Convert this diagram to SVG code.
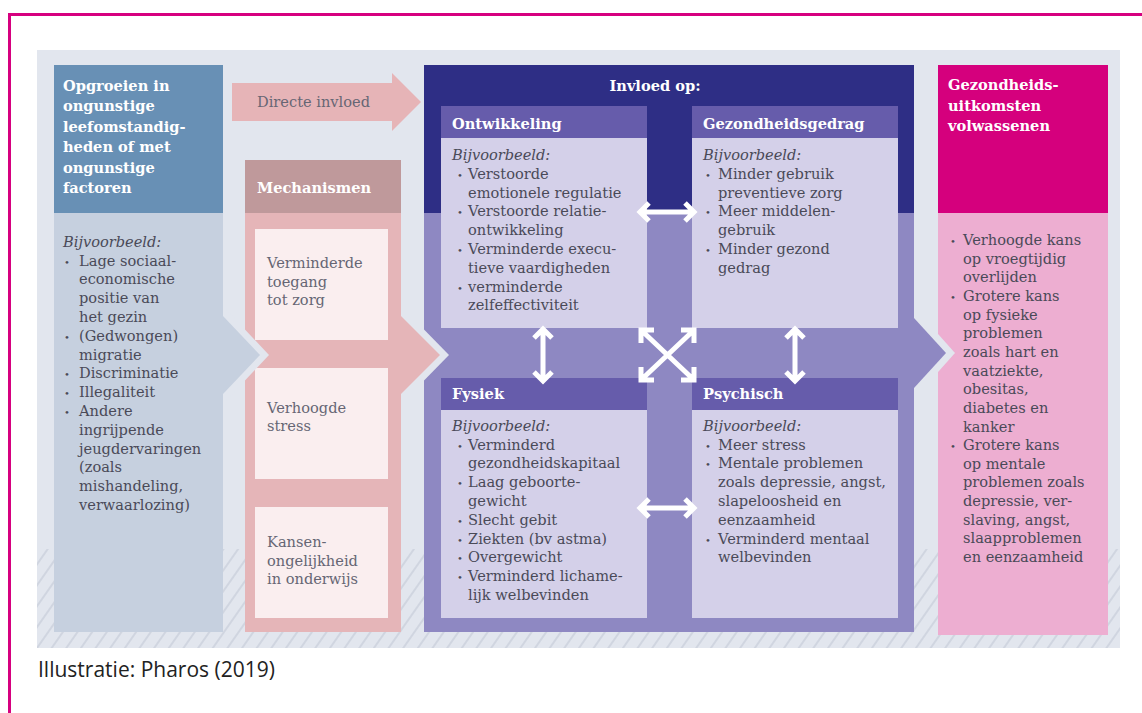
<svg xmlns="http://www.w3.org/2000/svg" width="1142" height="713" viewBox="0 0 1142 713">
<defs>
<style>
.t{font-family:"DejaVu Serif","Liberation Serif",serif;font-size:14.6px;fill:#4a4a58}
.h{font-family:"DejaVu Serif","Liberation Serif",serif;font-size:14.6px;font-weight:bold;fill:#ffffff}
.g{fill:#666674}
.i{font-style:italic}
.bu{font-size:10px}
.cap{font-family:"Open Sans","Noto Sans","Liberation Sans",sans-serif;font-size:21px;fill:#222222}
.arr{fill:none;stroke:#ffffff;stroke-width:5;stroke-linejoin:miter;stroke-linecap:butt}
</style>
<pattern id="hatch" patternUnits="userSpaceOnUse" width="12" height="12" patternTransform="rotate(35)">
<line x1="6" y1="-2" x2="6" y2="14" stroke="#c6ccd8" stroke-width="1.3"/>
</pattern>
</defs>
<rect x="0" y="0" width="1142" height="713" fill="#ffffff"/>
<path d="M9.5 713 V14.5 H1142" fill="none" stroke="#d6007f" stroke-width="3"/>
<g id="background">
<rect x="37" y="50" width="1083" height="598" fill="#e2e6ee"/>
<rect x="37" y="549" width="1083" height="99" fill="url(#hatch)"/>
</g>
<g id="purple-block">
<rect x="424" y="65" width="490" height="567" fill="#8e88c2"/>
<rect x="424" y="65" width="490" height="148" fill="#2e2e85"/>
<text class="h" x="655" y="91" text-anchor="middle">Invloed op:</text>
</g>
<g id="outcomes">
<rect x="938" y="65" width="170" height="148" fill="#d5007d"/>
<rect x="938" y="213" width="170" height="422" fill="#edaed1"/>
<text class="h"><tspan x="948" y="90">Gezondheids-</tspan><tspan x="948" y="110.6">uitkomsten</tspan><tspan x="948" y="131.2">volwassenen</tspan></text>
<text class="t">
<tspan class="bu" x="950" y="245">•</tspan><tspan x="963" y="245">Verhoogde kans</tspan>
<tspan x="963" y="263.65">op vroegtijdig</tspan>
<tspan x="963" y="282.3">overlijden</tspan>
<tspan class="bu" x="950" y="300.95">•</tspan><tspan x="963" y="300.95">Grotere kans</tspan>
<tspan x="963" y="319.6">op fysieke</tspan>
<tspan x="963" y="338.25">problemen</tspan>
<tspan x="963" y="356.9">zoals hart en</tspan>
<tspan x="963" y="375.55">vaatziekte,</tspan>
<tspan x="963" y="394.2">obesitas,</tspan>
<tspan x="963" y="412.85">diabetes en</tspan>
<tspan x="963" y="431.5">kanker</tspan>
<tspan class="bu" x="950" y="450.15">•</tspan><tspan x="963" y="450.15">Grotere kans</tspan>
<tspan x="963" y="468.8">op mentale</tspan>
<tspan x="963" y="487.45">problemen zoals</tspan>
<tspan x="963" y="506.1">depressie, ver-</tspan>
<tspan x="963" y="524.75">slaving, angst,</tspan>
<tspan x="963" y="543.4">slaapproblemen</tspan>
<tspan x="963" y="562.05">en eenzaamheid</tspan>
</text>
</g>
<g id="chevron-purple">
<polygon points="914,307 955,353 914,399" fill="#e2e6ee"/>
<polygon points="914,318 946,353 914,388" fill="#8e88c2"/>
</g>
<g id="mechanismen">
<rect x="245" y="160" width="156" height="53" fill="#bf999b"/>
<rect x="245" y="213" width="156" height="419" fill="#e5b5b8"/>
<text class="h" x="257" y="193">Mechanismen</text>
<rect x="255" y="229" width="133" height="111" fill="#faeeef"/>
<rect x="255" y="368" width="133" height="111" fill="#faeeef"/>
<rect x="255" y="507" width="133" height="111" fill="#faeeef"/>
<text class="t g"><tspan x="267" y="268.3">Verminderde</tspan><tspan x="267" y="286.8">toegang</tspan><tspan x="267" y="305.3">tot zorg</tspan></text>
<text class="t g"><tspan x="267" y="412.7">Verhoogde</tspan><tspan x="267" y="431.2">stress</tspan></text>
<text class="t g"><tspan x="267" y="547.3">Kansen-</tspan><tspan x="267" y="565.8">ongelijkheid</tspan><tspan x="267" y="584.3">in onderwijs</tspan></text>
</g>
<g id="chevron-pink">
<polygon points="401,306 449,355 401,404" fill="#e2e6ee"/>
<polygon points="401,316 440,355 401,394" fill="#e5b5b8"/>
</g>
<g id="opgroeien">
<rect x="54" y="65" width="169" height="148" fill="#6890b5"/>
<rect x="54" y="213" width="169" height="419" fill="#c6d0df"/>
<text class="h"><tspan x="63" y="90.5">Opgroeien in</tspan><tspan x="63" y="111">ongunstige</tspan><tspan x="63" y="131.5">leefomstandig-</tspan><tspan x="63" y="152">heden of met</tspan><tspan x="63" y="172.5">ongunstige</tspan><tspan x="63" y="193">factoren</tspan></text>
<text class="t">
<tspan class="i" x="63" y="246.7">Bijvoorbeeld:</tspan>
<tspan class="bu" x="64" y="265.5">•</tspan><tspan x="79" y="265.5">Lage sociaal-</tspan>
<tspan x="79" y="284.3">economische</tspan>
<tspan x="79" y="303.1">positie van</tspan>
<tspan x="79" y="321.9">het gezin</tspan>
<tspan class="bu" x="64" y="340.7">•</tspan><tspan x="79" y="340.7">(Gedwongen)</tspan>
<tspan x="79" y="359.5">migratie</tspan>
<tspan class="bu" x="64" y="378.3">•</tspan><tspan x="79" y="378.3">Discriminatie</tspan>
<tspan class="bu" x="64" y="397.1">•</tspan><tspan x="79" y="397.1">Illegaliteit</tspan>
<tspan class="bu" x="64" y="415.9">•</tspan><tspan x="79" y="415.9">Andere</tspan>
<tspan x="79" y="434.7">ingrijpende</tspan>
<tspan x="79" y="453.5">jeugdervaringen</tspan>
<tspan x="79" y="472.3">(zoals</tspan>
<tspan x="79" y="491.1">mishandeling,</tspan>
<tspan x="79" y="509.9">verwaarlozing)</tspan>
</text>
</g>
<g id="chevron-left">
<polygon points="223,306 269,355 223,404" fill="#e2e6ee"/>
<polygon points="223,316 260,355 223,394" fill="#c6d0df"/>
</g>
<g id="directe-invloed">
<polygon points="232,83 392,83 392,73 421,102 392,131 392,121 232,121" fill="#e6b4b7"/>
<text class="t g" x="257" y="106.7">Directe invloed</text>
</g>
<g id="ontwikkeling">
<rect x="441" y="106" width="206" height="32" fill="#665cab"/>
<rect x="441" y="138" width="206" height="190" fill="#d4d0e9"/>
<text class="h" x="452" y="129.3">Ontwikkeling</text>
<text class="t">
<tspan class="i" x="452" y="160">Bijvoorbeeld:</tspan>
<tspan class="bu" x="457" y="178.8">•</tspan><tspan x="468" y="178.8">Verstoorde</tspan>
<tspan x="468" y="197.6">emotionele regulatie</tspan>
<tspan class="bu" x="457" y="216.4">•</tspan><tspan x="468" y="216.4">Verstoorde relatie-</tspan>
<tspan x="468" y="235.2">ontwikkeling</tspan>
<tspan class="bu" x="457" y="254">•</tspan><tspan x="468" y="254">Verminderde execu-</tspan>
<tspan x="468" y="272.8">tieve vaardigheden</tspan>
<tspan class="bu" x="457" y="291.6">•</tspan><tspan x="468" y="291.6">verminderde</tspan>
<tspan x="468" y="310.4">zelfeffectiviteit</tspan>
</text>
</g>
<g id="gezondheidsgedrag">
<rect x="692" y="106" width="206" height="32" fill="#665cab"/>
<rect x="692" y="138" width="206" height="190" fill="#d4d0e9"/>
<text class="h" x="703" y="129.3">Gezondheidsgedrag</text>
<text class="t">
<tspan class="i" x="703" y="160">Bijvoorbeeld:</tspan>
<tspan class="bu" x="705" y="178.8">•</tspan><tspan x="718" y="178.8">Minder gebruik</tspan>
<tspan x="718" y="197.6">preventieve zorg</tspan>
<tspan class="bu" x="705" y="216.4">•</tspan><tspan x="718" y="216.4">Meer middelen-</tspan>
<tspan x="718" y="235.2">gebruik</tspan>
<tspan class="bu" x="705" y="254">•</tspan><tspan x="718" y="254">Minder gezond</tspan>
<tspan x="718" y="272.8">gedrag</tspan>
</text>
</g>
<g id="fysiek">
<rect x="441" y="378" width="206" height="32" fill="#665cab"/>
<rect x="441" y="410" width="206" height="208" fill="#d4d0e9"/>
<text class="h" x="452" y="399.3">Fysiek</text>
<text class="t">
<tspan class="i" x="452" y="430.7">Bijvoorbeeld:</tspan>
<tspan class="bu" x="457" y="449.5">•</tspan><tspan x="468" y="449.5">Verminderd</tspan>
<tspan x="468" y="468.3">gezondheidskapitaal</tspan>
<tspan class="bu" x="457" y="487.1">•</tspan><tspan x="468" y="487.1">Laag geboorte-</tspan>
<tspan x="468" y="505.9">gewicht</tspan>
<tspan class="bu" x="457" y="524.7">•</tspan><tspan x="468" y="524.7">Slecht gebit</tspan>
<tspan class="bu" x="457" y="543.5">•</tspan><tspan x="468" y="543.5">Ziekten (bv astma)</tspan>
<tspan class="bu" x="457" y="562.3">•</tspan><tspan x="468" y="562.3">Overgewicht</tspan>
<tspan class="bu" x="457" y="581.1">•</tspan><tspan x="468" y="581.1">Verminderd lichame-</tspan>
<tspan x="468" y="599.9">lijk welbevinden</tspan>
</text>
</g>
<g id="psychisch">
<rect x="692" y="378" width="206" height="32" fill="#665cab"/>
<rect x="692" y="410" width="206" height="208" fill="#d4d0e9"/>
<text class="h" x="703" y="399.3">Psychisch</text>
<text class="t">
<tspan class="i" x="703" y="430.7">Bijvoorbeeld:</tspan>
<tspan class="bu" x="705" y="449.5">•</tspan><tspan x="718" y="449.5">Meer stress</tspan>
<tspan class="bu" x="705" y="468.3">•</tspan><tspan x="718" y="468.3">Mentale problemen</tspan>
<tspan x="718" y="487.1">zoals depressie, angst,</tspan>
<tspan x="718" y="505.9">slapeloosheid en</tspan>
<tspan x="718" y="524.7">eenzaamheid</tspan>
<tspan class="bu" x="705" y="543.5">•</tspan><tspan x="718" y="543.5">Verminderd mentaal</tspan>
<tspan x="718" y="562.3">welbevinden</tspan>
</text>
</g>
<g id="connectors">
<path class="arr" d="M640 212 H694 M649 203 L640 212 L649 221 M685 203 L694 212 L685 221"/>
<path class="arr" d="M640 508 H694 M649 499 L640 508 L649 517 M685 499 L694 508 L685 517"/>
<path class="arr" d="M543 329 V381 M534 338 L543 329 L552 338 M534 372 L543 381 L552 372"/>
<path class="arr" d="M795 329 V381 M786 338 L795 329 L804 338 M786 372 L795 381 L804 372"/>
<path class="arr" d="M641 330 L694 380 M694 330 L641 380 M641 343 V330 H654 M681 330 H694 V343 M641 367 V380 H654 M681 380 H694 V367"/>
</g>
<text class="cap" x="38" y="677">Illustratie: Pharos (2019)</text>
</svg>
